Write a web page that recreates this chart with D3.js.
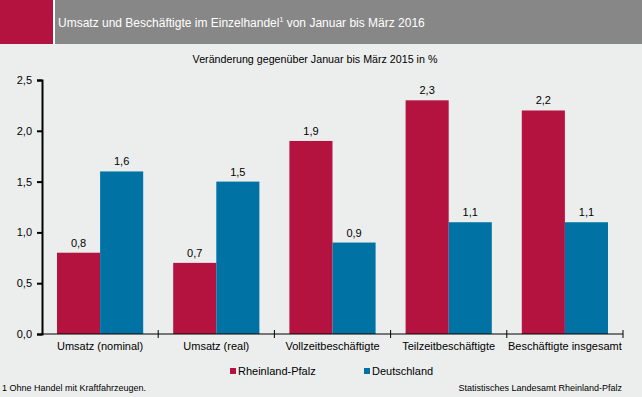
<!DOCTYPE html>
<html>
<head>
<meta charset="utf-8">
<script src="https://cdn.jsdelivr.net/npm/d3@7"></script>
<style>
  body { margin: 0; background: #eceeed; }
  svg text { font-family: "Liberation Sans", Arial, sans-serif; }
</style>
</head>
<body>
<div id="chart"></div>
<script>
const categories = ["Umsatz (nominal)", "Umsatz (real)", "Vollzeitbeschäftigte", "Teilzeitbeschäftigte", "Beschäftigte insgesamt"];
const seriesNames = ["Rheinland-Pfalz", "Deutschland"];
const rlpValues = [0.8, 0.7, 1.9, 2.3, 2.2];
const deValues = [1.6, 1.5, 0.9, 1.1, 1.1];
const yTicks = [0, 0.5, 1.0, 1.5, 2.0, 2.5];
const colors = ["#b5133f", "#0073a4"];

const width = 642;
const height = 397;
const margin = { left: 42, right: 19, top: 80, bottom: 63 };

const svg = d3.select("#chart")
    .append("svg")
    .attr("width", width)
    .attr("height", height);

svg.append("rect").attr("width", width).attr("height", height).attr("fill", "#eceeed");

// header
svg.append("rect").attr("x", 0).attr("y", 0).attr("width", 53).attr("height", 44).attr("fill", "#b5133f");
svg.append("rect").attr("x", 53).attr("y", 0).attr("width", 2).attr("height", 44).attr("fill", "#ffffff");
svg.append("rect").attr("x", 55).attr("y", 0).attr("width", width - 55).attr("height", 44).attr("fill", "#878787");

const title = svg.append("text")
    .attr("x", 58)
    .attr("y", 27)
    .attr("fill", "#ffffff")
    .attr("font-size", 12);
title.append("tspan").text("Umsatz und Beschäftigte im Einzelhandel");
title.append("tspan").attr("font-size", 7).attr("dy", -5).text("1");
title.append("tspan").attr("dy", 5).text(" von Januar bis März 2016");

svg.append("text")
    .attr("x", 315)
    .attr("y", 63)
    .attr("text-anchor", "middle")
    .attr("font-size", 10.7)
    .attr("fill", "#000")
    .text("Veränderung gegenüber Januar bis März 2015 in %");

const x0 = d3.scaleBand()
    .domain(categories)
    .range([margin.left, width - margin.right])
    .paddingInner(0)
    .paddingOuter(0);

const x1 = d3.scaleBand()
    .domain(seriesNames)
    .range([15, x0.bandwidth() - 15]);

const y = d3.scaleLinear()
    .domain([0, 2.5])
    .range([height - margin.bottom, margin.top]);

const fmt = d => d3.format(".1f")(d).replace(".", ",");

const rows = categories.map((c, i) => ({ cat: c, vals: [rlpValues[i], deValues[i]] }));

const groups = svg.selectAll("g.group")
    .data(rows)
    .enter()
    .append("g")
    .attr("class", "group")
    .attr("transform", d => "translate(" + x0(d.cat) + ",0)");

groups.selectAll("rect")
    .data(d => d.vals.map((v, j) => ({ name: seriesNames[j], v: v, j: j })))
    .enter()
    .append("rect")
    .attr("x", d => x1(d.name))
    .attr("y", d => y(d.v))
    .attr("width", x1.bandwidth())
    .attr("height", d => y(0) - y(d.v))
    .attr("fill", d => colors[d.j]);

groups.selectAll("text")
    .data(d => d.vals.map((v, j) => ({ name: seriesNames[j], v: v, j: j })))
    .enter()
    .append("text")
    .attr("x", d => x1(d.name) + x1.bandwidth() / 2)
    .attr("y", d => y(d.v) - 6)
    .attr("text-anchor", "middle")
    .attr("font-size", 11)
    .attr("fill", "#000")
    .text(d => fmt(d.v));

// y axis
const yAxis = svg.append("g")
    .attr("transform", "translate(" + margin.left + ",0)")
    .call(d3.axisLeft(y).tickValues(yTicks).tickSize(5).tickFormat(fmt));
yAxis.select(".domain").attr("stroke", "#000").attr("stroke-width", 2);
yAxis.selectAll(".tick line").attr("stroke", "#000").attr("stroke-width", 2);
yAxis.selectAll(".tick text")
    .attr("font-family", "Liberation Sans, Arial, sans-serif")
    .attr("font-size", 11)
    .attr("fill", "#000")
    .attr("x", -10);

// x axis
const xAxisG = svg.append("g")
    .attr("transform", "translate(0," + y(0) + ")");
xAxisG.append("line")
    .attr("x1", margin.left)
    .attr("x2", width - margin.right)
    .attr("stroke", "#000")
    .attr("stroke-width", 1);
xAxisG.selectAll("line.tick")
    .data(categories.slice(1).map(c => x0(c)).concat([width - margin.right]))
    .enter()
    .append("line")
    .attr("class", "tick")
    .attr("x1", d => d)
    .attr("x2", d => d)
    .attr("y1", -4)
    .attr("y2", 4)
    .attr("stroke", "#000");
xAxisG.selectAll("text")
    .data(categories)
    .enter()
    .append("text")
    .attr("x", d => x0(d) + x0.bandwidth() / 2)
    .attr("y", 16)
    .attr("text-anchor", "middle")
    .attr("font-size", 11)
    .attr("fill", "#000")
    .text(d => d);

// legend
const legendX = [230, 364];
const legend = svg.selectAll("g.legend")
    .data(seriesNames)
    .enter()
    .append("g")
    .attr("class", "legend")
    .attr("transform", (d, i) => "translate(" + legendX[i] + ",368)");
legend.append("rect").attr("width", 6).attr("height", 6).attr("fill", (d, i) => colors[i]);
legend.append("text").attr("x", 8).attr("y", 7).attr("font-size", 11).attr("fill", "#000").text(d => d);

// footer
svg.append("text").attr("x", 2).attr("y", 391).attr("font-size", 9).attr("fill", "#000")
    .text("1 Ohne Handel mit Kraftfahrzeugen.");
svg.append("text").attr("x", 622).attr("y", 391).attr("text-anchor", "end").attr("font-size", 9).attr("fill", "#000")
    .text("Statistisches Landesamt Rheinland-Pfalz");
</script>
</body>
</html>
